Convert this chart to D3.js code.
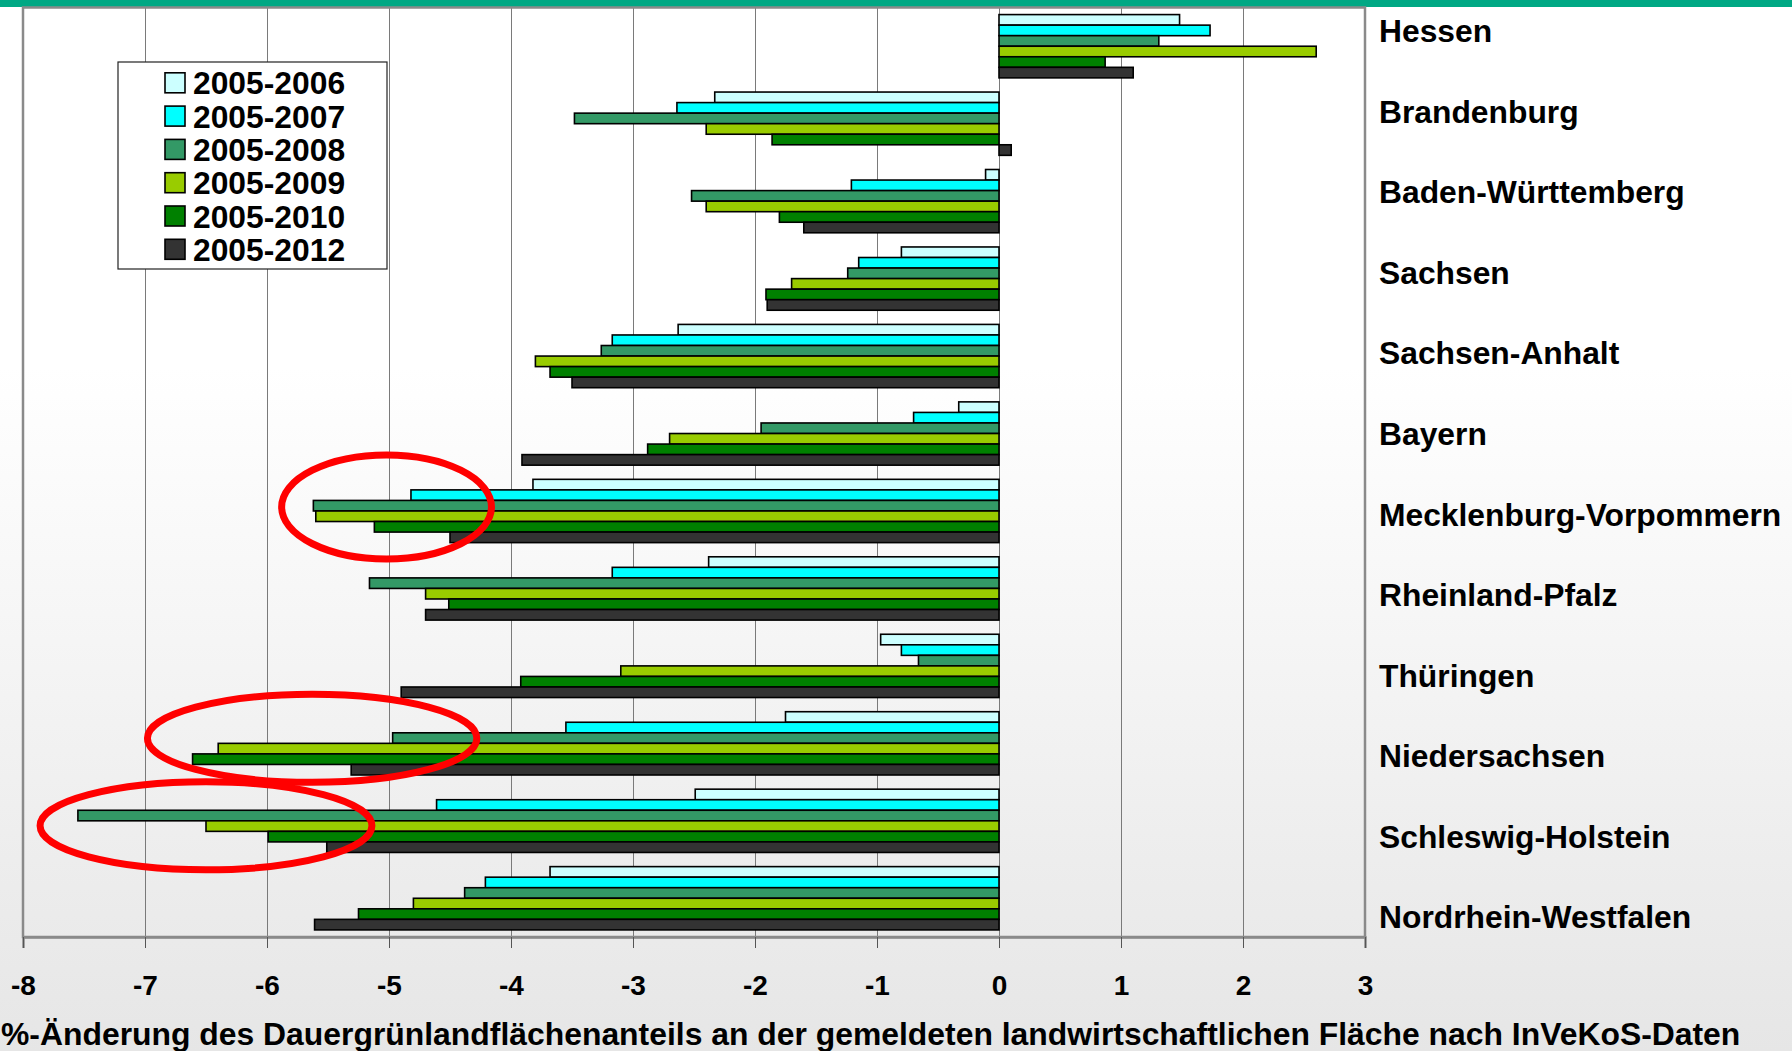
<!DOCTYPE html>
<html>
<head>
<meta charset="utf-8">
<script src="https://cdn.jsdelivr.net/npm/d3@7"></script>
<style>
  html, body { margin: 0; padding: 0; background: #fff; }
  svg { display: block; }
  text { font-family: "Liberation Sans", Arial, sans-serif; font-weight: bold; fill: #000; }
</style>
</head>
<body>
<svg id="chart" width="1792" height="1051"></svg>
<script>
// Federal states (Bundesländer), top to bottom
const categories = [
  "Hessen", "Brandenburg", "Baden-Württemberg", "Sachsen", "Sachsen-Anhalt", "Bayern",
  "Mecklenburg-Vorpommern", "Rheinland-Pfalz", "Thüringen", "Niedersachsen",
  "Schleswig-Holstein", "Nordrhein-Westfalen"
];

// Comparison periods
const periods = ["2005-2006", "2005-2007", "2005-2008", "2005-2009", "2005-2010", "2005-2012"];

// % change of permanent grassland share, one array per period (same order as categories)
const change2006 = [1.48, -2.33, -0.11, -0.80, -2.63, -0.33, -3.82, -2.38, -0.97, -1.75, -2.49, -3.68];
const change2007 = [1.73, -2.64, -1.21, -1.15, -3.17, -0.70, -4.82, -3.17, -0.80, -3.55, -4.61, -4.21];
const change2008 = [1.31, -3.48, -2.52, -1.24, -3.26, -1.95, -5.62, -5.16, -0.66, -4.97, -7.55, -4.38];
const change2009 = [2.60, -2.40, -2.40, -1.70, -3.80, -2.70, -5.60, -4.70, -3.10, -6.40, -6.50, -4.80];
const change2010 = [0.87, -1.86, -1.80, -1.91, -3.68, -2.88, -5.12, -4.51, -3.92, -6.61, -5.99, -5.25];
const change2012 = [1.10, 0.10, -1.60, -1.90, -3.50, -3.91, -4.50, -4.70, -4.90, -5.31, -5.51, -5.61];

const seriesValues = [change2006, change2007, change2008, change2009, change2010, change2012];
const seriesColors = ["#CCFFFF", "#00FFFF", "#339966", "#99CC00", "#008000", "#333333"];

// x-axis ticks
const tickValues = [-8, -7, -6, -5, -4, -3, -2, -1, 0, 1, 2, 3];

const axisTitle = "%-Änderung des Dauergrünlandflächenanteils an der gemeldeten landwirtschaftlichen Fläche nach InVeKoS-Daten";

// Highlighted groups (red ellipses): centre value, state, vertical offset, radii
const highlights = [
  { state: "Mecklenburg-Vorpommern", cx: -5.02, dy: -4, rx: 0.86, ry: 52 },
  { state: "Niedersachsen", cx: -5.63, dy: -5, rx: 1.35, ry: 44 },
  { state: "Schleswig-Holstein", cx: -6.50, dy: 5, rx: 1.36, ry: 44 }
];

// ---------------------------------------------------------------
const svg = d3.select("#chart");
const W = 1792, H = 1051;
const plot = { left: 23, right: 1365, top: 7.5, bottom: 937 };

// page background: white fading to light grey at the bottom
const defs = svg.append("defs");
const grad = defs.append("linearGradient")
  .attr("id", "bg").attr("x1", 0).attr("y1", 0).attr("x2", 0).attr("y2", 1);
grad.append("stop").attr("offset", "0%").attr("stop-color", "#ffffff");
grad.append("stop").attr("offset", "35%").attr("stop-color", "#ffffff");
grad.append("stop").attr("offset", "100%").attr("stop-color", "#e6e6e6");
svg.append("rect").attr("width", W).attr("height", H).attr("fill", "url(#bg)");

// teal header strip
svg.append("rect").attr("x", 0).attr("y", 0).attr("width", W).attr("height", 7)
  .attr("fill", "#00A884");

const x = d3.scaleLinear().domain([-8, 3]).range([plot.left, plot.right]);

const y = d3.scaleBand().domain(categories)
  .range([plot.top, plot.bottom]).paddingInner(0.183).paddingOuter(0.0915);

const ySub = d3.scaleBand().domain(d3.range(periods.length))
  .range([0, y.bandwidth()]).padding(0);

// vertical gridlines
svg.append("g").selectAll("line").data(tickValues).join("line")
  .attr("x1", d => Math.round(x(d)) + 0.5).attr("x2", d => Math.round(x(d)) + 0.5)
  .attr("y1", plot.top).attr("y2", plot.bottom)
  .attr("stroke", "#7a7a7a").attr("stroke-width", 1);

// plot frame
svg.append("rect")
  .attr("x", plot.left).attr("y", plot.top)
  .attr("width", plot.right - plot.left).attr("height", plot.bottom - plot.top)
  .attr("fill", "none").attr("stroke", "#8a8a8a").attr("stroke-width", 2.5);

// bars
const barGroups = svg.append("g").selectAll("g").data(categories).join("g")
  .attr("transform", d => `translate(0,${y(d)})`);

barGroups.selectAll("rect")
  .data((c, i) => seriesValues.map((vals, s) => ({ s, v: vals[i] })))
  .join("rect")
  .attr("x", d => x(Math.min(0, d.v)))
  .attr("width", d => Math.abs(x(d.v) - x(0)))
  .attr("y", d => ySub(d.s))
  .attr("height", ySub.bandwidth())
  .attr("fill", d => seriesColors[d.s])
  .attr("stroke", "#000").attr("stroke-width", 1.6);

// x axis
const xAxis = d3.axisBottom(x).tickValues(tickValues)
  .tickFormat(d => String(d)).tickSize(11).tickPadding(0);

const gx = svg.append("g").attr("transform", `translate(0,${plot.bottom})`).call(xAxis);
gx.select(".domain").attr("stroke", "#8a8a8a").attr("stroke-width", 2.5);
gx.selectAll(".tick line").attr("stroke", "#555").attr("stroke-width", 1);
gx.selectAll(".tick text")
  .attr("y", 58).attr("dy", null)
  .style("font-size", "28px").style("font-weight", "bold")
  .style("font-family", "'Liberation Sans', Arial, sans-serif").attr("fill", "#000");

// axis title, fitted between the left page edge and x = 1741
const titleLeft = 1, titleRight = 1741;
const title = svg.append("text")
  .attr("x", titleLeft).attr("y", 1045)
  .style("font-size", "28px")
  .text(axisTitle);
const tLen = title.node().getComputedTextLength();
title.style("font-size", (28 * (titleRight - titleLeft) / tLen).toFixed(2) + "px");

// state labels to the right of the plot
const yLabel = d3.scalePoint().domain(categories).range([31, 917]);
svg.append("g").selectAll("text").data(categories).join("text")
  .attr("x", 1379)
  .attr("y", d => yLabel(d) + 11.3)
  .style("font-size", "31.8px")
  .text(d => d);

// legend
const legend = svg.append("g");
legend.append("rect")
  .attr("x", 118).attr("y", 62).attr("width", 269).attr("height", 207)
  .attr("fill", "#fff").attr("stroke", "#222").attr("stroke-width", 1.2);
const rowStep = 33.3;
const items = legend.selectAll("g.item").data(periods).join("g")
  .attr("class", "item")
  .attr("transform", (d, i) => `translate(0,${83.3 + i * rowStep})`);
items.append("rect")
  .attr("x", 165).attr("y", -10.5).attr("width", 20).attr("height", 20)
  .attr("fill", (d, i) => seriesColors[i])
  .attr("stroke", "#000").attr("stroke-width", 1.6);
items.append("text")
  .attr("x", 193).attr("y", 11)
  .style("font-size", "31.8px")
  .text(d => d);

// red highlight ellipses
svg.append("g").selectAll("ellipse").data(highlights).join("ellipse")
  .attr("cx", d => x(d.cx))
  .attr("cy", d => y(d.state) + y.bandwidth() / 2 + d.dy)
  .attr("rx", d => x(d.cx + d.rx) - x(d.cx))
  .attr("ry", d => d.ry)
  .attr("fill", "none")
  .attr("stroke", "#FF0000").attr("stroke-width", 7);
</script>
</body>
</html>
